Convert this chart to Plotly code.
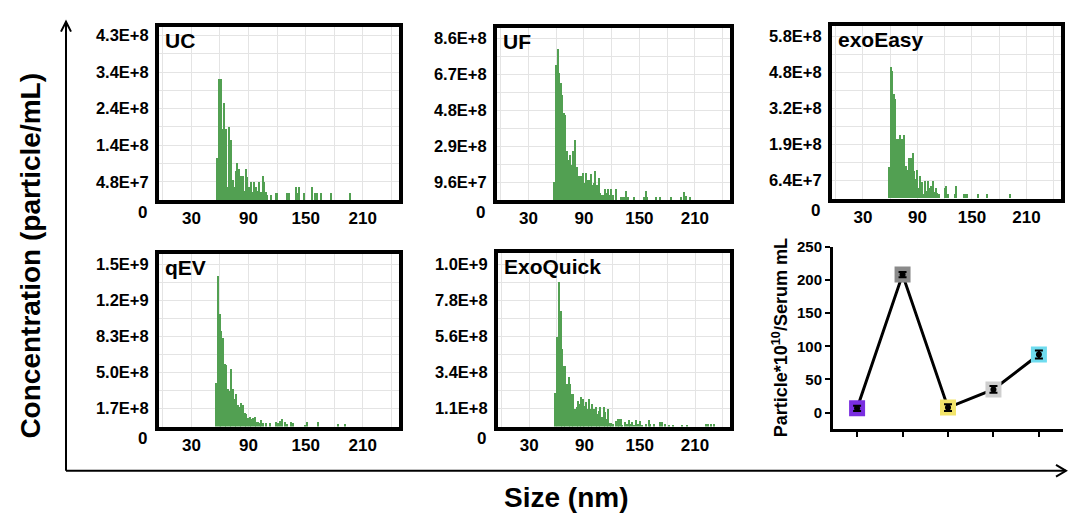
import plotly.graph_objects as go

W, H = 1069, 514

# ---------------- data ----------------
panel_names = ["UC", "UF", "exoEasy", "qEV", "ExoQuick"]

uc_size = [57.5, 59.3, 61.0, 62.8, 64.5, 66.3, 68.0, 69.8, 71.5, 73.3, 75.0, 76.8, 78.5, 80.3, 82.0,
           83.8, 85.5, 87.3, 89.0, 90.8, 92.5, 94.3, 96.0, 97.8, 99.5, 101.3, 103.0, 104.8, 106.5,
           108.3, 110.0, 113.5, 118.8, 120.5, 131.0, 132.8, 140.0, 141.8, 143.5, 147.9, 157.0, 160.4,
           162.2, 166.4, 176.8, 197.0]
uc_conc = [1.10e8, 3.17e8, 3.17e8, 1.87e8, 2.54e8, 1.87e8, 0.34e8, 1.92e8, 1.58e8, 0.53e8, 0.34e8,
           0.77e8, 0.96e8, 0.82e8, 0.62e8, 0.62e8, 0.24e8, 0.82e8, 0.60e8, 0.34e8, 0.48e8, 0.22e8,
           0.48e8, 0.34e8, 0.24e8, 0.48e8, 0.22e8, 0.62e8, 0.48e8, 0.22e8, 0.12e8, 0.14e8, 0.17e8,
           0.17e8, 0.17e8, 0.17e8, 0.34e8, 0.17e8, 0.34e8, 0.17e8, 0.34e8, 0.17e8, 0.17e8, 0.17e8,
           0.17e8, 0.17e8]

uf_size = [57.6, 59.9, 61.6, 63.3, 65.0, 66.7, 68.4, 70.1, 71.8, 73.6, 75.3, 77.0, 78.7, 80.4, 82.1,
           83.8, 85.5, 87.2, 88.9, 90.6, 92.3, 94.0, 95.7, 97.4, 99.1, 100.9, 102.6, 104.3, 106.0,
           107.7, 109.4, 111.1, 112.8, 114.5, 116.2, 117.9, 119.6, 121.3, 124.7, 129.8, 131.5, 133.2,
           136.0, 137.7, 144.5, 154.7, 157.1, 158.8, 168.4, 172.5, 184.4, 194.7, 198.8, 200.5, 204.9]
uf_conc = [0.96e8, 7.20e8, 8.06e8, 6.77e8, 6.24e8, 5.57e8, 4.61e8, 4.51e8, 2.60e8, 2.11e8, 2.40e8,
           1.87e8, 2.59e8, 3.17e8, 1.73e8, 1.25e8, 1.25e8, 1.25e8, 1.44e8, 0.91e8, 1.44e8, 1.06e8,
           1.06e8, 1.39e8, 0.82e8, 0.91e8, 1.54e8, 0.82e8, 1.15e8, 0.38e8, 0.29e8, 0.29e8, 0.56e8,
           0.38e8, 0.56e8, 0.29e8, 0.58e8, 0.29e8, 0.60e8, 0.14e8, 0.14e8, 0.14e8, 0.48e8, 0.14e8,
           0.14e8, 0.14e8, 0.48e8, 0.14e8, 0.14e8, 0.14e8, 0.14e8, 0.14e8, 0.43e8, 0.19e8, 0.14e8]

ee_size = [58.4, 60.5, 62.2, 64.0, 65.7, 67.4, 68.8, 70.9, 72.6, 74.4, 75.8, 77.9, 79.6, 81.3, 83.1,
           84.8, 86.5, 88.2, 90.0, 91.7, 93.4, 95.2, 96.9, 98.3, 100.0, 101.8, 103.5, 105.2, 107.0,
           108.7, 110.4, 112.1, 113.9, 120.1, 121.8, 124.2, 131.1, 132.9, 140.8, 142.5, 144.2, 156.4,
           166.8, 192.0]
ee_conc = [1.13e8, 4.67e8, 4.51e8, 3.71e8, 3.52e8, 2.09e8, 2.09e8, 2.24e8, 2.11e8, 1.45e8, 2.24e8,
           1.15e8, 1.02e8, 1.45e8, 1.45e8, 1.60e8, 0.96e8, 0.70e8, 1.02e8, 0.38e8, 0.80e8, 0.58e8,
           0.17e8, 0.62e8, 0.28e8, 0.62e8, 0.38e8, 0.45e8, 0.62e8, 0.22e8, 0.36e8, 0.21e8, 0.17e8,
           0.36e8, 0.45e8, 0.14e8, 0.17e8, 0.45e8, 0.17e8, 0.17e8, 0.17e8, 0.17e8, 0.17e8, 0.17e8]

qev_size = [55.5, 58.0, 59.7, 61.5, 63.2, 65.0, 66.7, 68.5, 70.2, 72.0, 73.7, 75.5, 77.2, 79.0, 80.7,
            82.5, 84.2, 86.0, 87.7, 89.5, 91.2, 93.0, 94.7, 96.5, 98.2, 100.0, 101.7, 103.5, 105.2,
            108.7, 112.2, 119.2, 121.0, 122.7, 125.5, 128.0, 130.4, 135.0, 136.7, 148.9, 151.4,
            162.9, 183.9, 191.6]
qev_conc = [4.05e8, 13.9e8, 10.4e8, 8.85e8, 8.18e8, 5.76e8, 5.68e8, 3.50e8, 3.32e8, 5.31e8, 3.49e8,
            2.59e8, 3.05e8, 2.06e8, 1.83e8, 2.16e8, 1.99e8, 1.25e8, 1.16e8, 0.83e8, 0.91e8, 0.73e8,
            0.78e8, 0.93e8, 0.48e8, 0.48e8, 0.33e8, 0.63e8, 0.33e8, 0.33e8, 0.33e8, 0.48e8, 0.33e8,
            0.55e8, 0.73e8, 0.48e8, 0.25e8, 0.48e8, 0.33e8, 0.18e8, 0.48e8, 0.48e8, 0.25e8, 0.25e8]

eq_size = [58.3, 60.7, 62.4, 64.1, 65.8, 67.6, 69.3, 71.0, 72.7, 74.5, 76.2, 77.9, 79.6, 81.4, 83.1,
           84.8, 86.6, 88.3, 90.0, 91.7, 93.4, 95.2, 96.9, 98.6, 100.3, 102.1, 103.8, 105.5, 107.2,
           109.0, 110.7, 112.4, 114.1, 115.8, 117.6, 119.3, 121.0, 123.8, 126.2, 127.9, 129.6, 131.3,
           134.1, 135.8, 138.2, 139.9, 141.7, 143.7, 146.1, 148.6, 150.6, 153.0, 156.5, 159.9, 161.6,
           165.8, 172.0, 174.7, 177.1, 182.3, 186.4, 196.1, 201.2, 221.9, 224.3, 227.0, 230.5]
eq_conc = [2.04e8, 5.50e8, 8.84e8, 7.06e8, 4.74e8, 3.70e8, 3.74e8, 2.60e8, 3.06e8, 2.60e8, 2.00e8,
           2.00e8, 1.10e8, 1.20e8, 1.60e8, 1.40e8, 1.80e8, 1.71e8, 1.30e8, 1.50e8, 1.10e8, 1.71e8,
           1.10e8, 1.40e8, 1.10e8, 1.20e8, 0.80e8, 1.00e8, 1.20e8, 0.61e8, 1.20e8, 0.90e8, 0.50e8,
           1.10e8, 0.26e8, 0.26e8, 0.20e8, 0.34e8, 0.50e8, 0.50e8, 0.50e8, 0.14e8, 0.30e8, 0.20e8,
           0.40e8, 0.20e8, 0.30e8, 0.10e8, 0.40e8, 0.20e8, 0.34e8, 0.10e8, 0.20e8, 0.40e8, 0.20e8,
           0.20e8, 0.30e8, 0.30e8, 0.20e8, 0.10e8, 0.10e8, 0.10e8, 0.14e8, 0.20e8, 0.20e8, 0.20e8,
           0.20e8]

# grid unit (one horizontal grid step) and y tick labels of each panel
grid_units = [4.8e7, 9.6e7, 6.4e7, 1.66e8, 1.1e8]
ytick_text = [
    ["4.8E+7", "1.4E+8", "2.4E+8", "3.4E+8", "4.3E+8"],
    ["9.6E+7", "2.9E+8", "4.8E+8", "6.7E+8", "8.6E+8"],
    ["6.4E+7", "1.9E+8", "3.2E+8", "4.8E+8", "5.8E+8"],
    ["1.7E+8", "5.0E+8", "8.3E+8", "1.2E+9", "1.5E+9"],
    ["1.1E+8", "3.4E+8", "5.6E+8", "7.8E+8", "1.0E+9"],
]
xtick_vals = [30, 90, 150, 210]

methods = ["UC", "UF", "exoEasy", "qEV", "ExoQuick"]
particles = [6.5, 208, 7.5, 35, 87.5]
particles_err = [4, 4, 5, 5, 6]
method_colors = ["#7a2ee0", "#8a8a8a", "#f2e46a", "#cfcfcf", "#6fdcef"]

# ---------------- layout geometry (pixels) ----------------
panel_px = [  # left, right, top, bottom of plot area
    (159, 399, 18.5, 194.5),
    (497, 730, 19.5, 194.5),
    (832, 1061, 17.5, 193),
    (159, 399, 249, 425),
    (498, 730, 248, 425),
]
range_top = [9.46, 9.55, 9.55, 9.6, 9.65]

BOLD = "Liberation Sans, Arial, sans-serif"
bar_data = [(uc_size, uc_conc), (uf_size, uf_conc), (ee_size, ee_conc),
            (qev_size, qev_conc), (eq_size, eq_conc)]

fig = go.Figure()
layout = dict(width=W, height=H, margin=dict(l=0, r=0, t=0, b=0),
              paper_bgcolor="white", plot_bgcolor="white", showlegend=False,
              bargap=0)
annotations = []
GRID = "#e4e4e4"

for i, (name, (xs, ys)) in enumerate(zip(panel_names, bar_data)):
    n = i + 1
    xa = "x" if n == 1 else f"x{n}"
    ya = "y" if n == 1 else f"y{n}"
    fig.add_trace(go.Bar(x=xs, y=ys, width=1.25, marker=dict(color="#52a052", line=dict(width=0)),
                         xaxis=xa, yaxis=ya, hoverinfo="skip"))
    l, r, t, b = panel_px[i]
    d = grid_units[i]
    key = "" if n == 1 else str(n)
    layout["xaxis" + key] = dict(
        domain=[l / W, r / W], range=[-4, 248], anchor=ya,
        tickvals=xtick_vals, ticktext=[str(v) for v in xtick_vals], ticks="",
        showgrid=True, gridcolor=GRID, gridwidth=1,
        minor=dict(tickvals=[0, 60, 120, 180, 240], showgrid=True, gridcolor=GRID, gridwidth=1),
        showline=True, linecolor="black", linewidth=4, mirror=True, zeroline=False,
        tickfont=dict(family=BOLD, size=17, color="black", weight="bold"),
    )
    layout["yaxis" + key] = dict(
        domain=[1 - b / H, 1 - t / H], range=[0, range_top[i] * d], anchor=xa,
        tickvals=[d, 3 * d, 5 * d, 7 * d, 9 * d], ticktext=ytick_text[i], ticks="",
        showgrid=True, gridcolor=GRID, gridwidth=1,
        minor=dict(tickvals=[2 * d, 4 * d, 6 * d, 8 * d], showgrid=True, gridcolor=GRID, gridwidth=1),
        showline=True, linecolor="black", linewidth=4, mirror=True, zeroline=False,
        tickfont=dict(family=BOLD, size=16.5, color="black", weight="bold"), ticklabelstandoff=3,
    )
    annotations.append(dict(text="0", xref=f"{xa} domain", yref=f"{ya} domain", x=0, y=0,
                            xanchor="right", yanchor="middle", xshift=-10, yshift=-12,
                            showarrow=False, font=dict(family=BOLD, size=17, color="black", weight="bold")))
    annotations.append(dict(text=name, xref=f"{xa} domain", yref=f"{ya} domain", x=0, y=1,
                            xanchor="left", yanchor="top", xshift=4, yshift=0,
                            showarrow=False, font=dict(family=BOLD, size=21, color="black", weight="bold")))

# ---------------- particle yield panel ----------------
fig.add_trace(go.Scatter(x=methods, y=particles, mode="lines", line=dict(color="black", width=3),
                         xaxis="x6", yaxis="y6", hoverinfo="skip"))
fig.add_trace(go.Scatter(x=methods, y=particles, mode="markers",
                         marker=dict(symbol="square", size=16, color=method_colors, line=dict(width=0)),
                         xaxis="x6", yaxis="y6", hoverinfo="skip"))
fig.add_trace(go.Scatter(x=methods, y=particles, mode="markers",
                         marker=dict(symbol="circle", size=6, color="black"),
                         error_y=dict(type="data", array=particles_err, color="black", thickness=2, width=4),
                         xaxis="x6", yaxis="y6", hoverinfo="skip"))
layout["xaxis6"] = dict(domain=[833 / W, 1063 / W], anchor="y6", type="category",
                        categoryorder="array", categoryarray=methods, range=[-0.53, 4.53],
                        showline=True, linecolor="black", linewidth=3, ticks="outside",
                        ticklen=5, tickwidth=2, tickcolor="black", showticklabels=False,
                        showgrid=False, zeroline=False)
layout["yaxis6"] = dict(domain=[1 - 427 / H, 1 - 242 / H], anchor="x6", range=[-24, 250],
                        tickvals=[0, 50, 100, 150, 200, 250], showline=True, linecolor="black",
                        linewidth=3, ticks="outside", ticklen=5, tickwidth=2, tickcolor="black",
                        showgrid=False, zeroline=False,
                        tickfont=dict(family=BOLD, size=15, color="black", weight="bold"),
                        title=dict(text="Particle*10<sup>10</sup>/Serum mL", standoff=5,
                                   font=dict(family=BOLD, size=18, color="black", weight="bold")))

# ---------------- global axes arrows (shapes) and titles ----------------
shapes = [
    dict(type="line", xref="paper", yref="paper", x0=66 / W, x1=66 / W, y0=1 - 470 / H, y1=1 - 13 / H,
         line=dict(color="black", width=2)),
    dict(type="path", xref="paper", yref="paper",
         path=f"M {61 / W},{1 - 23 / H} L {66 / W},{1 - 13 / H} L {71 / W},{1 - 23 / H}",
         line=dict(color="black", width=2)),
    dict(type="line", xref="paper", yref="paper", x0=66 / W, x1=1066 / W, y0=1 - 470 / H, y1=1 - 470 / H,
         line=dict(color="black", width=2)),
    dict(type="path", xref="paper", yref="paper",
         path=f"M {1056 / W},{1 - 464 / H} L {1066 / W},{1 - 470 / H} L {1056 / W},{1 - 476 / H}",
         line=dict(color="black", width=2)),
]
annotations.append(dict(text="Concentration (particle/mL)", xref="paper", yref="paper",
                        x=31 / W, y=1 - 251 / H, xanchor="center", yanchor="middle",
                        textangle=-90, showarrow=False,
                        font=dict(family=BOLD, size=28, color="black", weight="bold")))
annotations.append(dict(text="Size (nm)", xref="paper", yref="paper", x=566 / W, y=1 - 497 / H,
                        xanchor="center", yanchor="middle",
                        showarrow=False, font=dict(family=BOLD, size=28, color="black", weight="bold")))

layout["annotations"] = annotations
layout["shapes"] = shapes
fig.update_layout(**layout)
fig.write_html(
    "out.html",
    config={"displayModeBar": False},
    post_script=(
        "document.body.style.margin='0px';"
        "var gd=document.querySelector('.plotly-graph-div');"
        "gd.style.position='absolute';gd.style.left='0px';gd.style.top='0px';"
    ),
)
